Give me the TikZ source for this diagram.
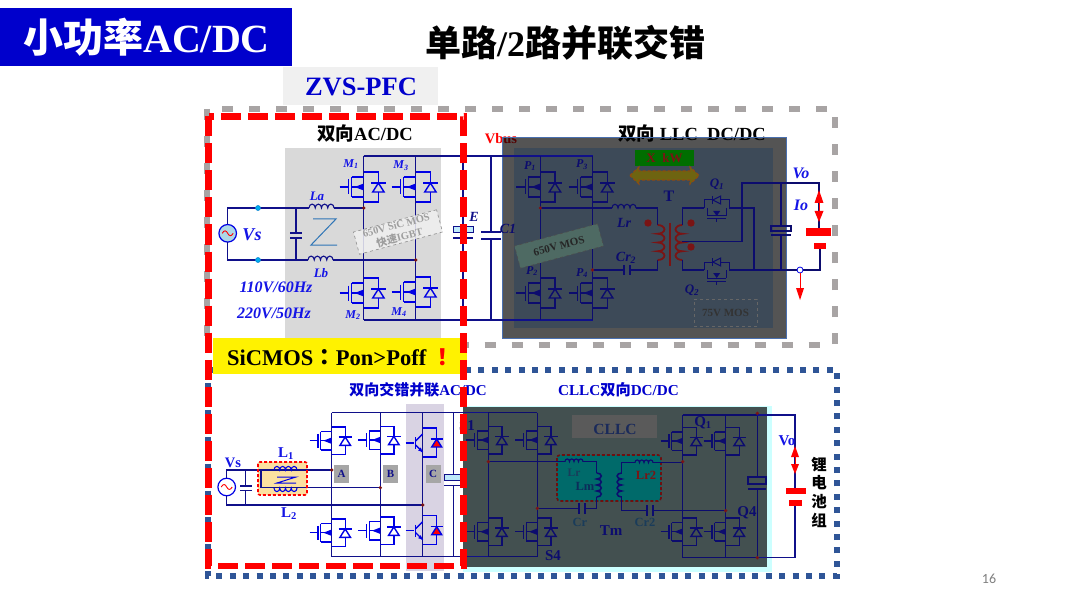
\documentclass[tikz,border=0pt]{standalone}
\usepackage{fontspec}
\setmainfont{Liberation Serif}
\newfontfamily\cjk{Noto Sans CJK SC}
\newfontfamily\cjkpunct{Noto Sans CJK TC}
\newfontfamily\numfont{Carlito}
\definecolor{headblue}{HTML}{0000CC}
\definecolor{labblue}{HTML}{1414E6}
\definecolor{navy}{HTML}{10108A}
\definecolor{dimnavy}{HTML}{0C0C6E}
\definecolor{darkred}{HTML}{7A1414}
\definecolor{dashgrey}{HTML}{A8A4A4}
\definecolor{dashblue}{HTML}{2F5597}
\definecolor{bandlav}{HTML}{D9D3E3}
\definecolor{panedge}{HTML}{4A70B0}
\definecolor{paninner}{HTML}{3D4A58}
\definecolor{panshadow}{HTML}{CCFFFF}
\definecolor{panlow}{HTML}{435050}
\definecolor{zblue}{HTML}{2E75B6}
\definecolor{arrowedge}{HTML}{8F4B10}
\definecolor{arrowfill}{HTML}{6E6410}
\definecolor{tagteal}{HTML}{4E6A63}
\definecolor{lbox}{HTML}{FCE0A0}
\definecolor{cllcgrey}{HTML}{5A5A5A}
\definecolor{cllctext}{HTML}{1A2A5A}
\definecolor{tealedge}{HTML}{6E0F0F}
\definecolor{tealbox}{HTML}{006A6A}
\definecolor{tealtext}{HTML}{1A3C5A}
\definecolor{lmtext}{HTML}{0C2C5A}
\definecolor{kwgreen}{HTML}{006E00}
\definecolor{srcfill}{HTML}{ADD8E6}
\colorlet{devcol}{blue!90!black}
\def\fs#1{\fontsize{#1}{#1}\selectfont}
\def\zh#1{{\cjk\bfseries #1}}
\def\zp#1{{\cjkpunct\bfseries #1}}
\tikzset{
  txt/.style={inner sep=0pt,font=\bfseries\fs{#1}},
  lab/.style={inner sep=0pt,text=labblue,font=\bfseries\itshape\fs{#1}},
  wire/.style={draw=navy,line width=1.1pt},
  dev/.style={draw=devcol,line width=1.4pt},
  tag/.style={draw=#1,dashed,line width=0.6pt,inner sep=0pt,minimum width=86pt,minimum height=23pt,align=center,rotate=15},
  redfill/.style={fill=red,draw=none},
  dot/.style={fill=darkred,draw=none}
}
% switch with anti-parallel diode, origin on the leg
\def\mosfet(#1,#2)[#3]{
  \begin{scope}[shift={(#1,#2)},scale=#3]
    \draw[dev] (-24,0) -- (-15,0);
    \draw[dev] (-15,-7.5) -- (-15,7.5);
    \draw[dev] (-12,-10) -- (-12,10);
    \draw[dev] (-12,-10) -- (0,-10);
    \draw[dev] (-12,10) -- (0,10);
    \draw[dev] (-12,0) -- (0,0);
    \fill[devcol] (-9,0) -- (0,-3.5) -- (0,3.5) -- cycle;
    \draw[dev] (0,-15) -- (14.7,-15) -- (14.7,-4);
    \draw[dev] (14.7,5) -- (14.7,15) -- (0,15);
    \draw[dev] (14.7,-4) -- (9,5) -- (20.4,5) -- cycle;
    \draw[dev] (7.5,-4) -- (22,-4);
  \end{scope}
}
\def\igbt(#1,#2){
  \begin{scope}[shift={(#1,#2)}]
    \draw[dev] (-17,0) -- (-9,0);
    \draw[dev] (-7,-6) -- (-7,6);
    \draw[dev] (-7,-2) -- (0,-9);
    \draw[dev] (-7,2) -- (0,9);
    \fill[devcol] (0,9) -- (-4.5,7.5) -- (-2,4.5) -- cycle;
    \draw[dev] (0,-15) -- (14,-15) -- (14,-4);
    \draw[dev] (14,4) -- (14,14) -- (0,14);
    \draw[dev,fill=red] (14,-4) -- (9,4) -- (19,4) -- cycle;
    \draw[dev] (8,-4) -- (20,-4);
  \end{scope}
}
\def\qmos(#1,#2){
  \begin{scope}[shift={(#1,#2)}]
    \draw[dev,line width=1pt] (-12.7,0) -- (-12.7,-8) -- (-4,-8);
    \draw[dev,line width=1pt] (4,-8) -- (12.7,-8) -- (12.7,0);
    \draw[dev,line width=1pt] (-4,-8) -- (4,-12) -- (4,-4) -- cycle;
    \draw[dev,line width=1pt] (-4,-12) -- (-4,-4);
    \draw[dev,line width=1pt] (-9.5,0) -- (-9.5,8);
    \draw[dev,line width=1pt] (9.5,0) -- (9.5,8);
    \draw[dev,line width=1pt] (-9.5,8) -- (9.5,8);
    \draw[dev,line width=1pt] (-9.5,11) -- (9.5,11);
    \draw[dev,line width=1pt] (0,11) -- (0,14.5);
    \fill[devcol] (-3.5,3) -- (3.5,3) -- (0,8) -- cycle;
  \end{scope}
}
\def\acsrc(#1,#2)[#3]{
  \begin{scope}[shift={(#1,#2)}]
    \draw[draw=blue!90!black,line width=1.2pt,fill=#3] (0,0) circle (8.8);
    \draw[red,line width=0.9pt] (-5.5,0) .. controls (-3.5,-3.5) and (-1.5,-3) .. (0,0) .. controls (1.5,3) and (3.5,3.5) .. (5.5,0);
  \end{scope}
}
% coils: humps across, humps down the page
\def\coilh(#1,#2)[#3][#4][#5]{\draw[#5] (#1,#2) \foreach \i in {1,...,#3}{arc (180:360:#4/2 and #4/1.6)};}
\def\coilhd(#1,#2)[#3][#4][#5]{\draw[#5] (#1,#2) \foreach \i in {1,...,#3}{arc (180:0:#4/2 and #4/1.6)};}
\def\coilr(#1,#2)[#3][#4][#5]{\draw[#5] (#1,#2) \foreach \i in {1,...,#3}{arc (-90:90:#4/1.3 and #4/2)};}
\def\coill(#1,#2)[#3][#4][#5]{\draw[#5] (#1,#2) \foreach \i in {1,...,#3}{arc (-90:-270:#4/1.3 and #4/2)};}

\begin{document}
\begin{tikzpicture}[x=1pt,y=-1pt]
  \useasboundingbox (0,0) rectangle (1080,607);
  \fill[white] (0,0) rectangle (1080,607);

  %%%%% HEADINGS %%%%%
  \fill[headblue] (0,8) rectangle (292,66);
  \node[txt=40,text=white] (mainhead) at (146.5,37) {\zh{小功率}AC/DC};
  \node[txt=36] (subhead) at (565,43) {\zh{单路}/2\zh{路并联交错}};
  \fill[black!6] (283,67) rectangle (438,105);
  \node[txt=26.5,text=headblue] (zvshead) at (361,87) {ZVS-PFC};

  %%%%% FRAMES AND BANDS %%%%%
  \draw[dashgrey,line width=6pt,dash pattern=on 11pt off 16pt] (207,109) rectangle (835,344.5);
  \draw[dashblue,line width=6pt,dash pattern=on 6pt off 7.4pt] (208,370) rectangle (837,576);
  \fill[black!15] (285,148) rectangle (441,340);
  \fill[bandlav] (406,404) rectangle (444,571);

  %%%%% TEXT UNDER THE DARK PANEL %%%%%
  \node[txt=18.5] (acdchead) at (365,133) {\zh{双向}AC/DC};
  \node[txt=18.5] (llchead) at (692,133) {\zh{双向} LLC\ \ DC/DC};
  \node[txt=14.5,text=red] (vbus) at (501,138.5) {Vbus};

  %%%%% DARK PANELS %%%%%
  \fill[black,fill opacity=0.67] (502,137) rectangle (786,338);
  \draw[panedge,line width=0.8pt] (502,137) rectangle (786,338);
  \fill[paninner] (514,148) rectangle (773,328);
  \fill[panshadow] (463,406) rectangle (772,571.5);
  \fill[panlow] (463,407) rectangle (767,566.5);

  %%%%% AC/DC, TOP LEFT %%%%%
  \acsrc(227.7,233.3)[srcfill]
  \draw[wire] (227.7,224.5) -- (227.7,208) -- (309,208);
  \draw[wire] (334,208) -- (363.7,208);
  \draw[wire] (227.7,242) -- (227.7,260) -- (308,260);
  \draw[wire] (333,260) -- (415.7,260);
  \draw[wire] (296,208) -- (296,233);
  \draw[wire] (296,238) -- (296,260);
  \draw[wire,line width=1.3pt] (290,233) -- (302,233);
  \draw[wire,line width=1.3pt] (290,238) -- (302,238);
  \coilh(309,208)[4][6.25][wire]
  \coilh(308,260)[4][6.25][wire]
  \draw[draw=cyan!70!blue,fill=cyan,line width=0.6pt] (258,208) circle (2.5);
  \draw[draw=cyan!70!blue,fill=cyan,line width=0.6pt] (258,260) circle (2.5);
  \draw[zblue,line width=1pt] (313,219) -- (336,219) -- (311,245) -- (337,245);
  \node[lab=13] (lA) at (317,196) {La};
  \node[lab=13] (lB) at (321,273) {Lb};
  \node[lab=18] (vsA) at (252,235) {Vs};
  \node[lab=16] (acA) at (276,287) {110V/60Hz};
  \node[lab=16] (acB) at (274,313) {220V/50Hz};

  \draw[wire] (363.7,156) -- (593,156);
  \draw[wire] (363.7,320) -- (593,320);
  \draw[wire] (363.7,156) -- (363.7,320);
  \draw[wire] (415.7,156) -- (415.7,320);
  \mosfet(363.7,187)[1]
  \mosfet(415.7,187)[1]
  \mosfet(363.7,293)[1]
  \mosfet(415.7,292)[1]
  \fill[dot] (363.7,208) circle (1.8);
  \fill[dot] (415.7,260) circle (1.8);
  \node[lab=12] (mA) at (351,164) {M\textsubscript{1}};
  \node[lab=12] (mB) at (401,166) {M\textsubscript{3}};
  \node[lab=12] (mC) at (353,315) {M\textsubscript{2}};
  \node[lab=12] (mD) at (399,312) {M\textsubscript{4}};
  \node[tag=black!45,fill=black!6,fill opacity=0.85,text opacity=1,text=black!38,font=\bfseries\fontsize{10.5}{13}\selectfont] (sictag) at (398,232) {650V SiC MOS\\\zh{快速}IGBT};

  \draw[wire] (463,156) -- (463,227);
  \draw[wire] (463,238) -- (463,320);
  \draw[draw=navy,line width=1pt,fill=cyan!25] (453,227) rectangle (473,233);
  \draw[navy,line width=1.3pt] (453,238) -- (473,238);
  \node[lab=14,text=navy] (eA) at (474,217) {E};
  \draw[wire] (491,156) -- (491,232);
  \draw[wire] (491,239) -- (491,320);
  \draw[navy,line width=1.3pt] (481,232) -- (501,232);
  \draw[navy,line width=1.3pt] (481,239) -- (501,239);
  \node[lab=14,text=dimnavy] (cA) at (508,229) {C1};

  %%%%% LLC, TOP RIGHT %%%%%
  \colorlet{devcol}{dimnavy}
  \tikzset{wire/.style={draw=dimnavy,line width=1.1pt}}
  \draw[wire] (540.3,156) -- (540.3,320);
  \draw[wire] (592.5,156) -- (592.5,320);
  \mosfet(540.3,187)[1]
  \mosfet(592.5,187)[1]
  \mosfet(540.3,293)[1]
  \mosfet(592.5,293)[1]
  \node[lab=12,text=dimnavy] (pA) at (530,166) {P\textsubscript{1}};
  \node[lab=12,text=dimnavy] (pB) at (582,165) {P\textsubscript{3}};
  \node[lab=12,text=dimnavy] (pC) at (532,271) {P\textsubscript{2}};
  \node[lab=12,text=dimnavy] (pD) at (582,273) {P\textsubscript{4}};
  \draw[wire] (540.3,208) -- (612,208);
  \draw[wire] (636,208) -- (657.7,208) -- (657.7,225);
  \coilh(612,208)[4][6][wire]
  \draw[wire] (657.7,260) -- (657.7,270) -- (631,270);
  \draw[wire] (623,270) -- (592.5,270);
  \draw[dimnavy,line width=1.3pt] (624,265) -- (624,275);
  \draw[dimnavy,line width=1.3pt] (630,265) -- (630,275);
  \coilr(657.7,225)[4][8.75][draw=darkred,line width=1.8pt]
  \coill(682.3,225)[4][8.75][draw=darkred,line width=1.8pt]
  \draw[darkred,line width=2.5pt] (670,223) -- (670,266);
  \fill[darkred] (648,223) circle (3.7);
  \fill[darkred] (691,223) circle (3.7);
  \fill[darkred] (691,247) circle (3.7);
  \fill[dot] (540.3,208) circle (1.8);
  \fill[dot] (592.5,270) circle (1.8);
  \draw[wire] (682.3,225) -- (682.3,208) -- (704,208);
  \draw[wire] (729.4,208) -- (754,208) -- (754,270);
  \draw[wire] (682.3,260) -- (682.3,270) -- (704,270);
  \draw[wire] (729.4,270) -- (797,270);
  \draw[wire] (682.3,241.7) -- (742,241.7) -- (742,183) -- (819,183) -- (819,228);
  \draw[wire] (803,270) -- (820,270) -- (820,249);
  \draw[wire] (781,183) -- (781,226);
  \draw[wire] (781,235) -- (781,270);
  \draw[wire,line width=1.3pt] (771,226) rectangle (791,231);
  \draw[dimnavy,line width=1.3pt] (771,235) -- (791,235);
  \qmos(716.7,208)
  \qmos(716.7,270)
  \draw[draw=blue!90!black,fill=white,line width=0.8pt] (800,270) circle (3);
  \node[lab=14,text=dimnavy] (lrA) at (624,223) {Lr};
  \node[lab=14,text=dimnavy] (crA) at (626,258) {Cr\textsubscript{2}};
  \node[lab=13,text=dimnavy] (qA) at (717,184) {Q\textsubscript{1}};
  \node[lab=13,text=dimnavy] (qB) at (692,290) {Q\textsubscript{2}};
  \node[txt=16,text=dimnavy] (tA) at (669,196) {T};
  \node[lab=16] (voA) at (801,173) {Vo};
  \node[lab=16] (ioA) at (801,205) {Io};
  \fill[kwgreen] (635,150) rectangle (694,166);
  \node[txt=13,text=darkred] (kw) at (664.5,158) {X\ \ kW};
  \draw[draw=arrowedge,fill=arrowfill,line width=1.2pt,densely dashed] (630,175.5) -- (639,167) -- (639,171) -- (690,171) -- (690,167) -- (699,175.5) -- (690,184) -- (690,180) -- (639,180) -- (639,184) -- cycle;
  \node[tag=black!70,fill=tagteal,text=black!85,font=\bfseries\fs{11}] (moslabel) at (559,246) {650V MOS};
  \node[draw=black!60,dashed,line width=0.6pt,minimum width=63pt,minimum height=27pt,inner sep=0pt,text=black!80,font=\bfseries\fs{11}] (lvtag) at (725.5,312.5) {75V MOS};

  \fill[redfill] (806,228) rectangle (831,236);
  \fill[redfill] (814,243) rectangle (826,249);
  \draw[red,line width=0.6pt] (819,200) -- (819,212);
  \fill[redfill] (819,190) -- (823.5,203) -- (814.5,203) -- cycle;
  \fill[redfill] (819,222) -- (823.5,211) -- (814.5,211) -- cycle;
  \draw[red,line width=0.6pt] (800,273) -- (800,289);
  \fill[redfill] (800,300) -- (804,288) -- (796,288) -- cycle;

  %%%%% INTERLEAVED AC/DC, BOTTOM LEFT %%%%%
  \colorlet{devcol}{blue!90!black}
  \tikzset{wire/.style={draw=navy,line width=1.1pt}}
  \node[txt=15,text=headblue] (ileavehead) at (418,390) {\zh{双向交错并联}AC/DC};
  \node[txt=15.2,text=headblue] (cllchead) at (618.5,390) {CLLC\zh{双向}DC/DC};
  \fill[lbox] (258,462) rectangle (307,495);
  \draw[wire] (331.7,412.7) -- (537.3,412.7);
  \draw[wire] (331.7,556.7) -- (537.3,556.7);
  \draw[wire] (331.7,412.7) -- (331.7,556.7);
  \draw[wire] (380.3,412.7) -- (380.3,556.7);
  \draw[wire] (422.7,412.7) -- (422.7,556.7);
  \draw[wire] (453.3,412.7) -- (453.3,474);
  \draw[wire] (453.3,486) -- (453.3,556.7);
  \draw[draw=navy,line width=1pt,fill=cyan!25] (444,474) rectangle (463,480);
  \draw[navy,line width=1.3pt] (444,485.7) -- (463,485.7);
  \mosfet(331.7,440.7)[0.92]
  \mosfet(380.3,440)[0.92]
  \mosfet(331.7,532.7)[0.92]
  \mosfet(380.3,530.7)[0.92]
  \igbt(422.7,443)
  \igbt(422.7,530.7)
  \acsrc(226.7,487)[white]
  \draw[wire] (226.7,478) -- (226.7,470) -- (331.7,470);
  \draw[wire] (226.7,496) -- (226.7,505) -- (422.7,505);
  \draw[wire] (261,470) -- (261,487.7) -- (380.3,487.7);
  \draw[wire] (245.7,470) -- (245.7,486);
  \draw[wire] (245.7,490.7) -- (245.7,505);
  \draw[navy,line width=1.2pt] (240,486) -- (252,486);
  \draw[navy,line width=1.2pt] (240,490.7) -- (252,490.7);
  \coilh(274,470)[4][5.75][draw=blue!90!black,line width=1.1pt]
  \coilhd(274,488)[4][5.75][draw=blue!90!black,line width=1.1pt]
  \draw[blue!90!black,line width=1pt] (277,477) -- (296,477) -- (277,483) -- (296,483);
  \draw[red,line width=1.6pt,densely dashed,rounded corners=2pt] (258,462) rectangle (307,495);
  \fill[dot] (331.7,470) circle (1.8);
  \fill[dot] (380.3,487.7) circle (1.8);
  \fill[dot] (422.7,505) circle (1.8);
  \foreach \nm/\xc in {A/341.5,B/390.5,C/433}{
    \fill[black!35] (\xc-7.5,465) rectangle (\xc+7.5,483);
    \node[txt=11,text=navy] (leg\nm) at (\xc,474) {\nm};
  }
  \node[txt=15,text=labblue] (lOne) at (286,454) {L\textsubscript{1}};
  \node[txt=15,text=labblue] (lTwo) at (289,514) {L\textsubscript{2}};
  \node[txt=14.5,text=labblue] (vsB) at (233,463) {Vs};

  %%%%% CLLC, BOTTOM RIGHT %%%%%
  \colorlet{devcol}{dimnavy}
  \tikzset{wire/.style={draw=dimnavy,line width=1.1pt}}
  \fill[cllcgrey] (572,415) rectangle (657,438);
  \node[txt=15.5,text=cllctext] (cllctag) at (615,429) {CLLC};
  \draw[wire] (488.3,412.5) -- (537.3,412.5);
  \draw[wire] (488.3,556.7) -- (537.3,556.7);
  \draw[wire] (488.3,412.5) -- (488.3,556.7);
  \draw[wire] (537.3,412.5) -- (537.3,556.7);
  \mosfet(488.3,440)[0.92]
  \mosfet(537.3,440)[0.92]
  \mosfet(488.3,531.7)[0.92]
  \mosfet(537.3,531.7)[0.92]
  \draw[draw=tealedge,fill=tealbox,line width=1.6pt,densely dashed,rounded corners=3pt] (557,455) rectangle (661,501);
  \draw[wire] (488.3,461.7) -- (565,461.7);
  \draw[wire] (583,461.7) -- (596.7,461.7) -- (596.7,473);
  \coilh(565,461.7)[4][4.5][wire]
  \coilr(596.7,473)[4][6][draw=dimnavy,line width=1.5pt]
  \draw[wire] (596.7,497) -- (596.7,508.3) -- (585,508.3);
  \draw[wire] (579,508.3) -- (537.3,508.3);
  \draw[dimnavy,line width=1.2pt] (579,503) -- (579,513.5);
  \draw[dimnavy,line width=1.2pt] (585,503) -- (585,513.5);
  \coill(621.7,473)[4][6][draw=dimnavy,line width=1.5pt]
  \draw[wire] (621.7,473) -- (621.7,462.7) -- (635,462.7);
  \draw[wire] (653,462.7) -- (682.7,462.7);
  \coilh(635,462.7)[4][4.5][wire]
  \draw[wire] (621.7,497) -- (621.7,510.7) -- (647,510.7);
  \draw[wire] (653,510.7) -- (725.7,510.7);
  \draw[dimnavy,line width=1.2pt] (647,505) -- (647,516);
  \draw[dimnavy,line width=1.2pt] (653,505) -- (653,516);
  \draw[wire] (682.7,415) -- (757.3,415);
  \draw[wire] (682.7,557.7) -- (757.3,557.7);
  \draw[wire] (682.7,415) -- (682.7,557.7);
  \draw[wire] (725.7,415) -- (725.7,557.7);
  \draw[wire] (757.3,413.3) -- (757.3,477);
  \draw[wire] (757.3,489) -- (757.3,557.7);
  \draw[wire,line width=1.3pt] (748,477) rectangle (766,484);
  \draw[dimnavy,line width=1.3pt] (748,489) -- (766,489);
  \draw[navy,line width=1.1pt] (757.3,415) -- (795,415) -- (795,488);
  \draw[navy,line width=1.1pt] (795,506) -- (795,557.7) -- (757.3,557.7);
  \mosfet(682.7,441)[0.92]
  \mosfet(725.7,441)[0.92]
  \mosfet(682.7,531.7)[0.92]
  \mosfet(725.7,531.7)[0.92]
  \fill[dot] (488.3,461.7) circle (1.8);
  \fill[dot] (537.3,508.3) circle (1.8);
  \fill[dot] (682.7,461.7) circle (1.8);
  \fill[dot] (725.7,510.7) circle (1.8);
  \fill[dot] (757.3,413.3) circle (1.8);
  \fill[dot] (757.3,557.7) circle (1.8);
  \node[txt=11.5,text=tealtext] (lrB) at (574,473) {Lr};
  \node[txt=12.5,text=lmtext] (lmB) at (585,486) {Lm};
  \node[txt=12.5,text=darkred] (lrC) at (646,475) {Lr2};
  \node[txt=12.5,text=tealtext] (crB) at (580,522) {Cr};
  \node[txt=12.5,text=tealtext] (crC) at (645,522) {Cr2};
  \node[txt=15,text=dimnavy] (tmB) at (611,531) {Tm};
  \node[txt=15,text=dimnavy] (sA) at (467,426) {S1};
  \node[txt=15,text=dimnavy] (sB) at (553,556) {S4};
  \node[txt=15,text=dimnavy] (qC) at (703,423) {Q\textsubscript{1}};
  \node[txt=15,text=dimnavy] (qD) at (747,513) {Q4};
  \node[txt=15,text=labblue] (voB) at (787,441) {Vo};
  \fill[redfill] (786,488) rectangle (806,494);
  \fill[redfill] (789,500) rectangle (802,506);
  \draw[red,line width=0.6pt] (795,455) -- (795,466);
  \fill[redfill] (795,446) -- (799,457) -- (791,457) -- cycle;
  \fill[redfill] (795,474) -- (799,464) -- (791,464) -- cycle;
  \foreach \nm/\ch/\yc in {a/锂/465,b/电/483,c/池/502,d/组/520}{
    \node[txt=15.5] (cell\nm) at (819,\yc) {\zh{\ch}};
  }

  %%%%% BANNER AND RED FRAME %%%%%
  \fill[yellow] (212.5,338) rectangle (467,373.5);
  \node[txt=22.5,anchor=west] (banner) at (227,357) {SiCMOS\zp{：}Pon>Poff\hspace{0.25em}\textcolor{red}{\zp{！}}};
  \draw[red,line width=6.5pt,dash pattern=on 20pt off 7pt] (208.5,116.5) rectangle (463.5,566);

  \node[inner sep=0pt,text=black!50,font=\numfont\fs{14}] (pageno) at (989,578.5) {16};
\end{tikzpicture}
\end{document}
